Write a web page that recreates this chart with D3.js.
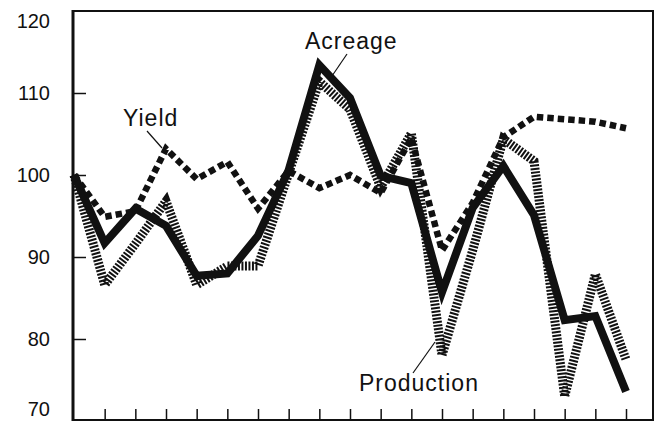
<!DOCTYPE html>
<html>
<head>
<meta charset="utf-8">
<script src="https://cdn.jsdelivr.net/npm/d3@7"></script>
<style>
  body { margin: 0; background: #fff; }
  text { font-family: "Liberation Sans", Arial, sans-serif; fill: #111; }
</style>
</head>
<body>
<script>
// one point per year, 19 years, no year labels on the original
var years = [0, 1, 2, 3, 4, 5, 6, 7, 8, 9, 10, 11, 12, 13, 14, 15, 16, 17, 18];
var acreage = [100, 91.7, 95.9, 93.8, 87.7, 88.0, 92.6, 100.6, 113.4, 109.4, 99.9, 99.0, 85.7, 96.0, 101.1, 95.1, 82.3, 82.8, 73.6];
var yieldIdx = [100, 94.9, 95.6, 103.2, 99.5, 101.6, 95.9, 100.5, 98.4, 100.0, 97.8, 104.5, 90.8, 96.6, 104.6, 107.1, 106.8, 106.5, 105.7];
var production = [100, 86.6, 91.6, 96.8, 86.6, 88.9, 88.9, 100.2, 111.4, 108.0, 98.5, 105.1, 78.0, 90.8, 104.4, 101.7, 73.0, 87.9, 77.5];
var yTicks = [70, 80, 90, 100, 110, 120];

var W = 661, H = 422;
var svg = d3.select("body").append("svg").attr("width", W).attr("height", H);

var x = d3.scaleLinear().domain([0, 18]).range([74, 626]);
var y = d3.scaleLinear().domain([70, 120]).range([421, 11]);

// frame
svg.append("rect")
  .attr("x", 73).attr("y", 11).attr("width", 580).attr("height", 409)
  .attr("fill", "none").attr("stroke", "#111").attr("stroke-width", 2);
svg.append("line").attr("x1", 73).attr("x2", 73).attr("y1", 10).attr("y2", 421)
  .attr("stroke", "#111").attr("stroke-width", 3);

// left axis: inward ticks, labels outside
var yAxis = d3.axisRight(y).tickValues(yTicks.filter(function(d){ return d > 70 && d < 120; }))
  .tickSize(13).tickFormat("");
var gy = svg.append("g").attr("transform", "translate(73,0)").call(yAxis);
gy.select(".domain").remove();
gy.selectAll("line").attr("stroke", "#111").attr("stroke-width", 1.5);

// end labels sit a little inside the frame, as in the original
svg.selectAll(".ylab").data(yTicks).enter().append("text")
  .attr("class", "ylab")
  .attr("x", 50).attr("y", function(d){ return Math.min(Math.max(y(d), 21), 409); })
  .attr("dy", "0.36em")
  .attr("text-anchor", "end")
  .style("font-size", "20px")
  .text(function(d){ return d; });

// bottom axis: upward ticks, no labels
var xAxis = d3.axisTop(x).tickValues(years.slice(1)).tickSize(11).tickFormat("");
var gx = svg.append("g").attr("transform", "translate(0,420)").call(xAxis);
gx.select(".domain").remove();
gx.selectAll("line").attr("stroke", "#111").attr("stroke-width", 1.5);

var line = d3.line().x(function(d, i){ return x(years[i]); }).y(function(d){ return y(d); });

svg.append("path").datum(production)
  .attr("d", line).attr("fill", "none").attr("stroke", "#111")
  .attr("stroke-width", 9).attr("stroke-dasharray", "2,1.5")
  .attr("stroke-linejoin", "miter");

svg.append("path").datum(acreage)
  .attr("d", line).attr("fill", "none").attr("stroke", "#111")
  .attr("stroke-width", 8).attr("stroke-linejoin", "miter");

svg.append("path").datum(yieldIdx)
  .attr("d", line).attr("fill", "none").attr("stroke", "#111")
  .attr("stroke-width", 6.5).attr("stroke-dasharray", "6.5,4")
  .attr("stroke-linejoin", "miter");

// labels with leader lines
var labels = [
  { t: "Yield", tx: 123, ty: 126, x1: 147, y1: 131, x2: 162, y2: 148 },
  { t: "Acreage", tx: 305, ty: 49, x1: 347, y1: 54, x2: 332, y2: 76 },
  { t: "Production", tx: 359, ty: 391, x1: 413, y1: 373, x2: 435, y2: 342 }
];
labels.forEach(function(l) {
  svg.append("line").attr("x1", l.x1).attr("y1", l.y1).attr("x2", l.x2).attr("y2", l.y2)
    .attr("stroke", "#111").attr("stroke-width", 1.2);
  svg.append("text").attr("x", l.tx).attr("y", l.ty)
    .style("font-size", "23px").style("letter-spacing", "1px")
    .text(l.t);
});
</script>
</body>
</html>
